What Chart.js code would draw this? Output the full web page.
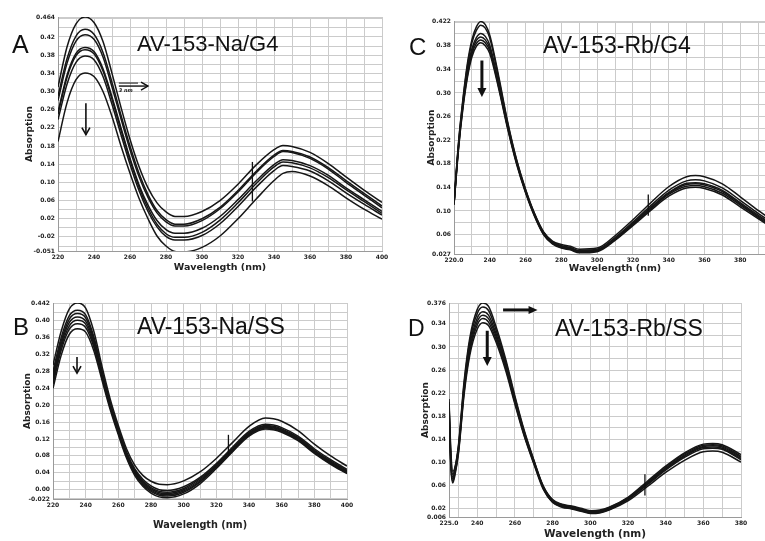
<!DOCTYPE html>
<html>
<head>
<meta charset="utf-8">
<script src="https://cdn.jsdelivr.net/npm/chart.js@4.4.0/dist/chart.umd.min.js"></script>
<style>
  html, body { margin: 0; padding: 0; background: #fff; width: 765px; height: 541px; overflow: hidden; position: relative; }
  .panel { position: absolute; }
  .lbl { position: absolute; font-family: "Liberation Sans", Arial, sans-serif; color: #111; line-height: 1; white-space: nowrap; }
</style>
</head>
<body>
<div class="panel" style="left:0;top:0"><canvas id="chartA" width="400" height="275"></canvas></div>
<div class="panel" style="left:380px;top:0"><canvas id="chartC" width="400" height="275"></canvas></div>
<div class="panel" style="left:0;top:275px"><canvas id="chartB" width="400" height="266"></canvas></div>
<div class="panel" style="left:380px;top:275px"><canvas id="chartD" width="385" height="266"></canvas></div>

<div class="lbl" style="left:12px;top:32px;font-size:25px">A</div>
<div class="lbl" style="left:137px;top:33px;font-size:22px">AV-153-Na/G4</div>
<div class="lbl" style="left:409px;top:35px;font-size:24px">C</div>
<div class="lbl" style="left:543px;top:34px;font-size:23px">AV-153-Rb/G4</div>
<div class="lbl" style="left:13px;top:315px;font-size:24px">B</div>
<div class="lbl" style="left:137px;top:315px;font-size:23px">AV-153-Na/SS</div>
<div class="lbl" style="left:408px;top:317px;font-size:23px">D</div>
<div class="lbl" style="left:555px;top:317px;font-size:23px">AV-153-Rb/SS</div>

<script>
// ---- Panel A: AV-153-Na/G4 ----
const wlA = [220, 225, 230, 235, 240, 245, 250, 255, 260, 265, 270, 275, 280, 285, 290, 300, 310, 320, 330, 340, 345, 350, 360, 370, 380, 390, 400];
const a1 = [0.310, 0.398, 0.449, 0.464, 0.452, 0.410, 0.340, 0.265, 0.195, 0.135, 0.088, 0.055, 0.035, 0.025, 0.025, 0.036, 0.060, 0.096, 0.138, 0.172, 0.181, 0.179, 0.166, 0.142, 0.112, 0.083, 0.056];
const a2 = [0.290, 0.372, 0.422, 0.437, 0.426, 0.386, 0.320, 0.248, 0.180, 0.120, 0.073, 0.038, 0.018, 0.008, 0.008, 0.020, 0.045, 0.082, 0.124, 0.160, 0.170, 0.168, 0.156, 0.133, 0.104, 0.076, 0.048];
const a3 = [0.280, 0.362, 0.411, 0.425, 0.415, 0.376, 0.310, 0.240, 0.172, 0.113, 0.067, 0.033, 0.013, 0.004, 0.004, 0.016, 0.042, 0.079, 0.121, 0.157, 0.168, 0.166, 0.153, 0.130, 0.100, 0.072, 0.044];
const a4 = [0.255, 0.336, 0.384, 0.397, 0.388, 0.350, 0.288, 0.220, 0.153, 0.095, 0.050, 0.016, -0.004, -0.012, -0.012, -0.001, 0.025, 0.062, 0.103, 0.139, 0.150, 0.148, 0.137, 0.116, 0.088, 0.062, 0.036];
const a5 = [0.250, 0.331, 0.379, 0.392, 0.383, 0.345, 0.283, 0.215, 0.149, 0.090, 0.043, 0.008, -0.013, -0.021, -0.021, -0.010, 0.017, 0.055, 0.097, 0.134, 0.145, 0.143, 0.132, 0.111, 0.084, 0.058, 0.032];
const a6 = [0.238, 0.316, 0.364, 0.378, 0.370, 0.333, 0.272, 0.205, 0.140, 0.082, 0.036, 0.002, -0.019, -0.027, -0.027, -0.017, 0.009, 0.047, 0.089, 0.126, 0.137, 0.135, 0.125, 0.104, 0.077, 0.052, 0.028];
const a7 = [0.190, 0.275, 0.326, 0.341, 0.333, 0.300, 0.245, 0.180, 0.120, 0.065, 0.020, -0.018, -0.040, -0.052, -0.053, -0.043, -0.018, 0.020, 0.063, 0.104, 0.120, 0.124, 0.114, 0.093, 0.066, 0.041, 0.019];
const xLabelsA = ['220', '240', '260', '280', '300', '320', '340', '360', '380', '400'];
const yLabelsA = ['0.464', '0.42', '0.38', '0.34', '0.30', '0.26', '0.22', '0.18', '0.14', '0.10', '0.06', '0.02', '-0.02', '-0.051'];

// ---- Panel C: AV-153-Rb/G4 ----
const wlC = [220, 222.5, 225, 227.5, 230, 232.5, 235, 237.5, 240, 245, 250, 255, 260, 265, 270, 275, 280, 285, 290, 300, 310, 320, 330, 340, 350, 355, 360, 370, 380, 390, 400];
const c1 = [0.113, 0.215, 0.290, 0.350, 0.390, 0.412, 0.421, 0.416, 0.398, 0.328, 0.251, 0.187, 0.137, 0.096, 0.065, 0.049, 0.043, 0.040, 0.035, 0.037, 0.058, 0.085, 0.114, 0.141, 0.158, 0.160, 0.158, 0.146, 0.124, 0.101, 0.080];
const c2 = [0.113, 0.213, 0.287, 0.346, 0.385, 0.406, 0.415, 0.410, 0.393, 0.324, 0.249, 0.186, 0.136, 0.095, 0.064, 0.048, 0.041, 0.038, 0.033, 0.035, 0.055, 0.081, 0.109, 0.135, 0.151, 0.153, 0.151, 0.139, 0.118, 0.096, 0.076];
const c3 = [0.112, 0.210, 0.282, 0.338, 0.375, 0.394, 0.401, 0.396, 0.381, 0.316, 0.245, 0.183, 0.134, 0.094, 0.063, 0.047, 0.040, 0.037, 0.032, 0.034, 0.053, 0.079, 0.106, 0.131, 0.147, 0.148, 0.146, 0.135, 0.114, 0.093, 0.073];
const c4 = [0.112, 0.208, 0.280, 0.334, 0.370, 0.389, 0.395, 0.390, 0.376, 0.313, 0.243, 0.182, 0.133, 0.093, 0.062, 0.046, 0.039, 0.036, 0.031, 0.033, 0.052, 0.078, 0.105, 0.130, 0.145, 0.146, 0.144, 0.133, 0.112, 0.091, 0.071];
const c5 = [0.111, 0.206, 0.277, 0.330, 0.366, 0.384, 0.390, 0.385, 0.372, 0.310, 0.241, 0.181, 0.132, 0.092, 0.061, 0.045, 0.038, 0.035, 0.030, 0.032, 0.051, 0.077, 0.103, 0.128, 0.142, 0.143, 0.141, 0.130, 0.110, 0.089, 0.069];
const c6 = [0.110, 0.204, 0.274, 0.326, 0.361, 0.379, 0.385, 0.380, 0.367, 0.307, 0.239, 0.179, 0.131, 0.091, 0.060, 0.044, 0.037, 0.034, 0.029, 0.031, 0.050, 0.075, 0.101, 0.125, 0.139, 0.140, 0.138, 0.127, 0.107, 0.087, 0.067];
const xLabelsC = ['220.0', '240', '260', '280', '300', '320', '340', '360', '380'];
const yLabelsC = ['0.422', '0.38', '0.34', '0.30', '0.26', '0.22', '0.18', '0.14', '0.10', '0.06', '0.027'];

// ---- Panel B: AV-153-Na/SS ----
const wlB = [220, 225, 230, 235, 240, 245, 250, 255, 260, 265, 270, 275, 280, 285, 290, 300, 310, 320, 330, 340, 350, 355, 360, 370, 380, 390, 400];
const b1 = [0.295, 0.375, 0.428, 0.442, 0.430, 0.375, 0.292, 0.215, 0.152, 0.097, 0.058, 0.034, 0.020, 0.013, 0.012, 0.021, 0.042, 0.074, 0.112, 0.150, 0.170, 0.168, 0.162, 0.140, 0.108, 0.080, 0.056];
const b2 = [0.280, 0.360, 0.412, 0.425, 0.414, 0.362, 0.282, 0.207, 0.145, 0.090, 0.050, 0.025, 0.009, 0.000, -0.002, 0.007, 0.029, 0.062, 0.101, 0.138, 0.155, 0.153, 0.147, 0.127, 0.097, 0.071, 0.048];
const b3 = [0.272, 0.352, 0.404, 0.417, 0.407, 0.356, 0.278, 0.204, 0.142, 0.087, 0.047, 0.021, 0.005, -0.004, -0.006, 0.003, 0.026, 0.059, 0.098, 0.135, 0.152, 0.150, 0.144, 0.124, 0.094, 0.068, 0.045];
const b4 = [0.265, 0.345, 0.396, 0.409, 0.399, 0.350, 0.274, 0.201, 0.140, 0.085, 0.044, 0.018, 0.002, -0.007, -0.009, 0.000, 0.023, 0.057, 0.096, 0.133, 0.150, 0.148, 0.142, 0.122, 0.092, 0.066, 0.043];
const b5 = [0.258, 0.338, 0.388, 0.401, 0.392, 0.344, 0.270, 0.198, 0.137, 0.082, 0.041, 0.015, -0.001, -0.010, -0.012, -0.003, 0.020, 0.055, 0.094, 0.131, 0.148, 0.146, 0.140, 0.120, 0.090, 0.064, 0.041];
const b6 = [0.250, 0.330, 0.380, 0.393, 0.384, 0.338, 0.265, 0.195, 0.134, 0.079, 0.038, 0.012, -0.004, -0.013, -0.015, -0.006, 0.018, 0.053, 0.092, 0.129, 0.146, 0.144, 0.138, 0.118, 0.088, 0.062, 0.040];
const b7 = [0.240, 0.318, 0.368, 0.381, 0.373, 0.329, 0.259, 0.190, 0.130, 0.075, 0.034, 0.008, -0.008, -0.017, -0.019, -0.010, 0.014, 0.050, 0.090, 0.127, 0.144, 0.142, 0.136, 0.116, 0.086, 0.060, 0.038];
const xLabelsB = ['220', '240', '260', '280', '300', '320', '340', '360', '380', '400'];
const yLabelsB = ['0.442', '0.40', '0.36', '0.32', '0.28', '0.24', '0.20', '0.16', '0.12', '0.08', '0.04', '0.00', '-0.022'];

// ---- Panel D: AV-153-Rb/SS ----
const wlD = [225, 226, 227, 228, 230, 233, 236, 240, 243, 246, 250, 255, 260, 265, 270, 275, 280, 285, 290, 295, 300, 305, 310, 320, 330, 340, 350, 360, 365, 370, 380];
const d1 = [0.210, 0.120, 0.085, 0.090, 0.130, 0.240, 0.315, 0.365, 0.376, 0.370, 0.335, 0.280, 0.215, 0.155, 0.105, 0.060, 0.036, 0.028, 0.025, 0.021, 0.017, 0.018, 0.023, 0.040, 0.067, 0.094, 0.117, 0.132, 0.133, 0.131, 0.114];
const d2 = [0.205, 0.110, 0.080, 0.088, 0.127, 0.235, 0.309, 0.358, 0.369, 0.363, 0.329, 0.276, 0.212, 0.153, 0.104, 0.059, 0.035, 0.027, 0.024, 0.020, 0.016, 0.017, 0.022, 0.039, 0.065, 0.092, 0.115, 0.130, 0.131, 0.129, 0.111];
const d3 = [0.200, 0.105, 0.075, 0.085, 0.124, 0.230, 0.302, 0.350, 0.361, 0.355, 0.323, 0.272, 0.209, 0.151, 0.102, 0.058, 0.034, 0.026, 0.023, 0.019, 0.015, 0.016, 0.021, 0.038, 0.064, 0.090, 0.113, 0.128, 0.129, 0.127, 0.109];
const d4 = [0.195, 0.100, 0.072, 0.082, 0.121, 0.226, 0.296, 0.344, 0.355, 0.349, 0.318, 0.268, 0.206, 0.149, 0.101, 0.057, 0.033, 0.025, 0.022, 0.018, 0.014, 0.015, 0.020, 0.037, 0.062, 0.089, 0.111, 0.126, 0.127, 0.125, 0.107];
const d5 = [0.190, 0.095, 0.068, 0.079, 0.118, 0.222, 0.291, 0.338, 0.349, 0.343, 0.313, 0.264, 0.204, 0.147, 0.100, 0.056, 0.032, 0.024, 0.021, 0.017, 0.013, 0.014, 0.019, 0.036, 0.061, 0.087, 0.109, 0.124, 0.125, 0.123, 0.105];
const d6 = [0.185, 0.090, 0.065, 0.076, 0.115, 0.217, 0.285, 0.331, 0.342, 0.337, 0.308, 0.260, 0.201, 0.145, 0.098, 0.054, 0.031, 0.023, 0.020, 0.016, 0.012, 0.013, 0.018, 0.034, 0.058, 0.083, 0.104, 0.119, 0.120, 0.118, 0.101];
const xLabelsD = ['225.0', '240', '260', '280', '300', '320', '340', '360', '380'];
const yLabelsD = ['0.376', '0.34', '0.30', '0.26', '0.22', '0.18', '0.14', '0.10', '0.06', '0.02', '0.006'];

// grid lines at every step, plus the odd axis ends
function gridValues(min, max, step) {
  const out = [min];
  const first = Math.ceil((min + 1e-9) / step) * step;
  for (let v = first; v < max - 1e-9; v += step) {
    const r = Math.round(v * 1000) / 1000;
    if (r - min > 0.0015 && max - r > 0.0015) out.push(r);
  }
  out.push(max);
  return out;
}

function labelFor(labels) {
  return function (value) {
    const hit = labels.find(l => Math.abs(Number(l) - value) < 1e-6);
    return hit === undefined ? '' : hit;
  };
}

// arrows and isosbestic marks, placed in data units
const arrowPlugin = {
  id: 'arrows',
  afterDatasetsDraw(chart, args, opts) {
    const { ctx } = chart;
    const sx = chart.scales.x, sy = chart.scales.y;
    ctx.save();
    ctx.strokeStyle = '#111';
    ctx.fillStyle = '#111';
    (opts.items || []).forEach(a => {
      if (a.type === 'down') {
        const x = sx.getPixelForValue(a.x), y1 = sy.getPixelForValue(a.y1), y2 = sy.getPixelForValue(a.y2);
        ctx.lineWidth = a.bold ? 3 : 1.6;
        ctx.beginPath(); ctx.moveTo(x, y1); ctx.lineTo(x, y2 - (a.bold ? 6 : 0)); ctx.stroke();
        if (a.bold) {
          ctx.beginPath(); ctx.moveTo(x - 4.5, y2 - 9); ctx.lineTo(x + 4.5, y2 - 9); ctx.lineTo(x, y2); ctx.closePath(); ctx.fill();
        } else {
          ctx.beginPath(); ctx.moveTo(x - 4, y2 - 7); ctx.lineTo(x, y2); ctx.lineTo(x + 4, y2 - 7); ctx.stroke();
        }
      } else if (a.type === 'right') {
        const x1 = sx.getPixelForValue(a.x1), x2 = sx.getPixelForValue(a.x2), y = sy.getPixelForValue(a.y);
        ctx.lineWidth = a.bold ? 3 : 1.4;
        ctx.beginPath(); ctx.moveTo(x1, y); ctx.lineTo(x2 - (a.bold ? 6 : 0), y); ctx.stroke();
        if (a.bold) {
          ctx.beginPath(); ctx.moveTo(x2 - 9, y - 4); ctx.lineTo(x2 - 9, y + 4); ctx.lineTo(x2, y); ctx.closePath(); ctx.fill();
        } else {
          ctx.beginPath(); ctx.moveTo(x2 - 7, y - 4); ctx.lineTo(x2, y); ctx.lineTo(x2 - 7, y + 4); ctx.stroke();
          ctx.lineWidth = 1;
          ctx.beginPath(); ctx.moveTo(x1, y - 3); ctx.lineTo(x2 - 10, y - 3); ctx.stroke();
        }
        if (a.text) {
          ctx.font = 'italic bold 5px "DejaVu Sans"';
          ctx.textBaseline = 'top';
          ctx.fillText(a.text, x1, y + 2);
        }
      } else if (a.type === 'tick') {
        const x = sx.getPixelForValue(a.x), y1 = sy.getPixelForValue(a.y1), y2 = sy.getPixelForValue(a.y2);
        ctx.lineWidth = 1.3;
        ctx.beginPath(); ctx.moveTo(x, y1); ctx.lineTo(x, y2); ctx.stroke();
      }
    });
    ctx.restore();
  }
};

function makeChart(cfg) {
  const datasets = cfg.series.map(s => ({
    data: cfg.wl.map((w, i) => ({ x: w, y: s[i] })),
    borderColor: '#161616',
    borderWidth: 1.5,
    pointRadius: 0,
    fill: false,
    cubicInterpolationMode: 'monotone'
  }));
  const xGrid = gridValues(cfg.xMin, cfg.xMax, 10);
  const yGrid = gridValues(cfg.yMin, cfg.yMax, 0.02);
  return new Chart(document.getElementById(cfg.id), {
    type: 'line',
    data: { datasets: datasets },
    options: {
      responsive: false,
      animation: false,
      layout: { padding: cfg.pad },
      plugins: {
        legend: { display: false },
        tooltip: { enabled: false },
        arrows: { items: cfg.items }
      },
      scales: {
        x: {
          type: 'linear',
          min: cfg.xMin,
          max: cfg.xMax,
          afterBuildTicks: scale => { scale.ticks = xGrid.map(v => ({ value: v })); },
          afterFit: scale => { scale.height = cfg.xHeight; },
          grid: { color: '#cbcbcb', drawTicks: false },
          border: { color: '#9a9a9a' },
          ticks: {
            autoSkip: false, maxRotation: 0, padding: 3, color: '#222',
            font: { family: '"DejaVu Sans"', size: 6, weight: 'bold' },
            callback: labelFor(cfg.xLabels)
          },
          title: {
            display: true, text: 'Wavelength (nm)', color: '#222',
            font: { family: '"DejaVu Sans"', size: cfg.xTitleSize, weight: 'bold' },
            padding: { top: 0, bottom: cfg.xTitlePad }
          }
        },
        y: {
          min: cfg.yMin,
          max: cfg.yMax,
          afterBuildTicks: scale => { scale.ticks = yGrid.map(v => ({ value: v })); },
          afterFit: scale => { scale.width = cfg.yWidth; },
          grid: { color: '#cbcbcb', drawTicks: false },
          border: { color: '#9a9a9a' },
          ticks: {
            autoSkip: false, padding: 3, color: '#222',
            font: { family: '"DejaVu Sans"', size: 6, weight: 'bold' },
            callback: labelFor(cfg.yLabels)
          },
          title: {
            display: true, text: 'Absorption', color: '#222',
            font: { family: '"DejaVu Sans"', size: 9, weight: 'bold' },
            padding: { top: cfg.yTitlePad, bottom: 0 }
          }
        }
      }
    },
    plugins: [arrowPlugin]
  });
}

makeChart({
  id: 'chartA', wl: wlA, series: [a1, a2, a3, a4, a5, a6, a7],
  xMin: 220, xMax: 400, yMin: -0.051, yMax: 0.464,
  xLabels: xLabelsA, yLabels: yLabelsA,
  pad: { left: 0, top: 17, right: 18, bottom: 0 }, yWidth: 58, xHeight: 24,
  yTitlePad: 24, xTitlePad: 2, xTitleSize: 9.5,
  items: [
    { type: 'down', x: 235.5, y1: 0.274, y2: 0.205 },
    { type: 'right', x1: 253.8, x2: 270, y: 0.312, text: '3 nm' },
    { type: 'tick', x: 328, y1: 0.145, y2: 0.058 }
  ]
});

makeChart({
  id: 'chartC', wl: wlC, series: [c1, c2, c3, c4, c5, c6],
  xMin: 220, xMax: 400, yMin: 0.027, yMax: 0.422,
  xLabels: xLabelsC, yLabels: yLabelsC,
  pad: { left: 0, top: 21, right: 4, bottom: 0 }, yWidth: 74, xHeight: 21,
  yTitlePad: 46, xTitlePad: 1, xTitleSize: 9.5,
  items: [
    { type: 'down', x: 235.6, y1: 0.355, y2: 0.293, bold: true },
    { type: 'tick', x: 328.6, y1: 0.128, y2: 0.092 }
  ]
});

makeChart({
  id: 'chartB', wl: wlB, series: [b1, b2, b3, b4, b5, b6, b7],
  xMin: 220, xMax: 400, yMin: -0.022, yMax: 0.442,
  xLabels: xLabelsB, yLabels: yLabelsB,
  pad: { left: 0, top: 28, right: 53, bottom: 0 }, yWidth: 53, xHeight: 42,
  yTitlePad: 22, xTitlePad: 10, xTitleSize: 9.7,
  items: [
    { type: 'down', x: 234.7, y1: 0.314, y2: 0.276 },
    { type: 'tick', x: 327.4, y1: 0.13, y2: 0.08 }
  ]
});

makeChart({
  id: 'chartD', wl: wlD, series: [d1, d2, d3, d4, d5, d6],
  xMin: 225, xMax: 380, yMin: 0.006, yMax: 0.376,
  xLabels: xLabelsD, yLabels: yLabelsD,
  pad: { left: 0, top: 28, right: 24, bottom: 0 }, yWidth: 69, xHeight: 24,
  yTitlePad: 40, xTitlePad: 0, xTitleSize: 10.5,
  items: [
    { type: 'down', x: 245.3, y1: 0.328, y2: 0.267, bold: true },
    { type: 'right', x1: 253.7, x2: 272, y: 0.364, bold: true },
    { type: 'tick', x: 329, y1: 0.08, y2: 0.043 }
  ]
});
</script>
</body>
</html>
